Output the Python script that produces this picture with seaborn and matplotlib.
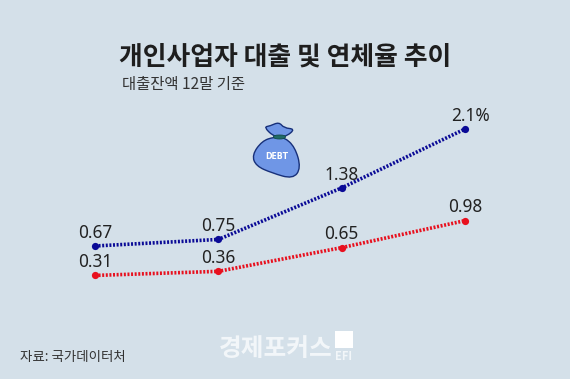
import pandas as pd
import numpy as np
import matplotlib
matplotlib.use('Agg')
import matplotlib.pyplot as plt
from matplotlib.patches import PathPatch, Rectangle
from matplotlib.path import Path
import seaborn as sns

# values
quarters = ['p1', 'p2', 'p3', 'p4']
loan_balance = [0.67, 0.75, 1.38, 2.1]
overdue_rate = [0.31, 0.36, 0.65, 0.98]
loan_labels = ['0.67', '0.75', '1.38', '2.1%']
overdue_labels = ['0.31', '0.36', '0.65', '0.98']

W, H = 570, 379
BG = '#d4e0e9'
KR = ['Noto Sans CJK KR', 'DejaVu Sans']

sns.set_theme(style='white')
plt.rcParams['font.family'] = KR

df = pd.DataFrame({
    'x': list(range(4)) * 2,
    'value': loan_balance + overdue_rate,
    'series': ['loan'] * 4 + ['overdue'] * 4,
})

fig = plt.figure(figsize=(W / 100, H / 100), dpi=100, facecolor=BG)
ax = fig.add_axes([0, 0, 1, 1], facecolor=BG)

sns.lineplot(data=df, x='x', y='value', hue='series', palette={'loan': '#0a0a96', 'overdue': '#e8101e'},
             linewidth=2.6, linestyle=(0, (0.55, 0.45)), marker='o', markersize=5.2,
             markeredgewidth=0, legend=False, ax=ax)

ax.set_xlim(-0.770, 3.851)
ax.set_ylim(-0.956, 3.677)
ax.axis('off')

# value labels, 2.1% sits a little to the right in the original
for i, (v, s) in enumerate(zip(loan_balance, loan_labels)):
    dx = 4 if s.endswith('%') else 0
    ax.annotate(s, (i, v), xytext=(dx, 3), textcoords='offset points', ha='center', va='bottom',
                fontsize=12.4, color='#222222', family='Noto Sans')
for i, (v, s) in enumerate(zip(overdue_rate, overdue_labels)):
    ax.annotate(s, (i, v), xytext=(0, 3), textcoords='offset points', ha='center', va='bottom',
                fontsize=12.4, color='#222222', family='Noto Sans')


def px(x, y):
    return x / W, 1 - y / H


fig.text(*px(285.5, 57), '개인사업자 대출 및 연체율 추이', ha='center', va='center',
         fontsize=18.6, fontweight='bold', color='#1e1e1e')
fig.text(*px(122, 84), '대출잔액 12말 기준', ha='left', va='center', fontsize=11.1, color='#333333')
fig.text(*px(20, 357), '자료: 국가데이터처', ha='left', va='center', fontsize=9.7, color='#333333')
fig.text(*px(219, 349), '경제포커스', ha='left', va='center', fontsize=17.8, fontweight='bold', color='#f2f6f9')
fig.text(*px(344, 356), 'EFI', ha='center', va='center', fontsize=8, fontweight='bold', color='#f2f6f9')
fig.patches.append(Rectangle(px(335, 348), 18 / W, 17 / H, transform=fig.transFigure,
                             facecolor='white', edgecolor='none', figure=fig))


# debt bag icon, in picture pixels
def blob(points, fc, ec, lw=1.0):
    pts = np.array(points, dtype=float)
    mids = (pts + np.roll(pts, -1, axis=0)) / 2
    verts = [mids[-1]]
    codes = [Path.MOVETO]
    for p, m in zip(pts, mids):
        verts += [p, m]
        codes += [Path.CURVE3, Path.CURVE3]
    verts = np.array(verts) / [W, H]
    verts[:, 1] = 1 - verts[:, 1]
    fig.patches.append(PathPatch(Path(verts, codes), transform=fig.transFigure, facecolor=fc,
                                 edgecolor=ec, linewidth=lw, figure=fig))


blob([(274, 137), (262, 141), (252, 155), (256, 166), (272, 173), (293, 179), (301, 168), (295, 147), (284, 137)],
     '#6f96e6', '#17307a')
blob([(273, 136), (264, 127), (270, 126), (279, 122), (284, 128), (295, 129), (287, 136), (280, 137)],
     '#6f96e6', '#17307a')
blob([(273, 135), (286, 135), (285, 139), (274, 139)], '#1f6a66', '#124a48', lw=0.6)
fig.text(*px(276.5, 156.5), 'DEBT', ha='center', va='center', fontsize=5.6, fontweight='bold',
         color='white', family='DejaVu Sans')

fig.savefig('out.png', dpi=100, facecolor=BG)
